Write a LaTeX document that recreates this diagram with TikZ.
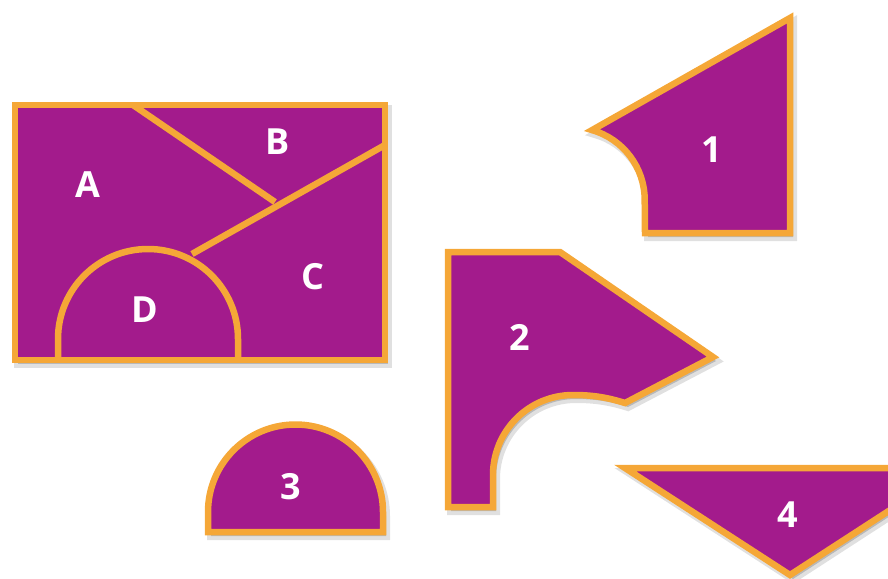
\documentclass[tikz,border=0pt]{standalone}
\usepackage{fontspec}
\setmainfont{Open Sans}
\definecolor{piecefill}{RGB}{163,27,140}
\definecolor{pieceedge}{RGB}{245,167,55}
\tikzset{
  piece/.style={fill=piecefill, draw=pieceedge, line width=6.5pt},
  cut/.style={draw=pieceedge, line width=6.5pt},
  shade1/.style={fill=black, opacity=0.18, draw=black, draw opacity=0.12, line width=8pt},
  lbl/.style={text=white, font=\fontsize{36}{40}\selectfont\bfseries, inner sep=0pt}
}
\begin{document}
\begin{tikzpicture}[x=1pt,y=-1pt]
\useasboundingbox (0,0) rectangle (888,578);
\begin{scope}
\clip (0,0) rectangle (888,578);
\def\rectpath{(15,105) rectangle (385,360)}
\def\onepath{(790,18) -- (790,233) -- (645,233) -- (644.7,200) arc[start angle=0, end angle=-74, radius=72.7] -- cycle}
\def\twopath{(448,252) -- (560,252) -- (713,357) -- (625,403) .. controls (606,397) and (591,395) .. (573,395) arc[start angle=-90, end angle=-180, radius=80] -- (493,507) -- (448,507) -- cycle}
\def\threepath{(208,532) -- (208,512) arc[start angle=180, end angle=360, radius=87.5] -- (383,532) -- cycle}
\def\fourpath{(625,468) -- (955,468) -- (790,575) -- cycle}
% shadows
\begin{scope}[shift={(3,4)}]
\fill[shade1] \rectpath;
\fill[shade1] \onepath;
\fill[shade1] \twopath;
\fill[shade1] \threepath;
\fill[shade1] \fourpath;
\end{scope}
% pieces
\draw[piece] \rectpath;
\draw[cut] (133,105) -- (275,202);
\draw[cut] (385,145) -- (192,254);
\draw[cut] (58,360) -- (58,339) arc[start angle=180, end angle=360, radius=90] -- (238,360);
\draw[piece] \onepath;
\draw[piece] \twopath;
\draw[piece] \threepath;
\draw[piece] \fourpath;
\end{scope}
% labels
\node[lbl] (A) at (88,185) {A};
\node[lbl] (B) at (278,142) {B};
\node[lbl] (C) at (313,277) {C};
\node[lbl] (D) at (145,310) {D};
\node[lbl] (n1) at (712,150) {1};
\node[lbl] (n2) at (520,337) {2};
\node[lbl] (n3) at (291,487) {3};
\node[lbl] (n4) at (788,515) {4};
\end{tikzpicture}
\end{document}
